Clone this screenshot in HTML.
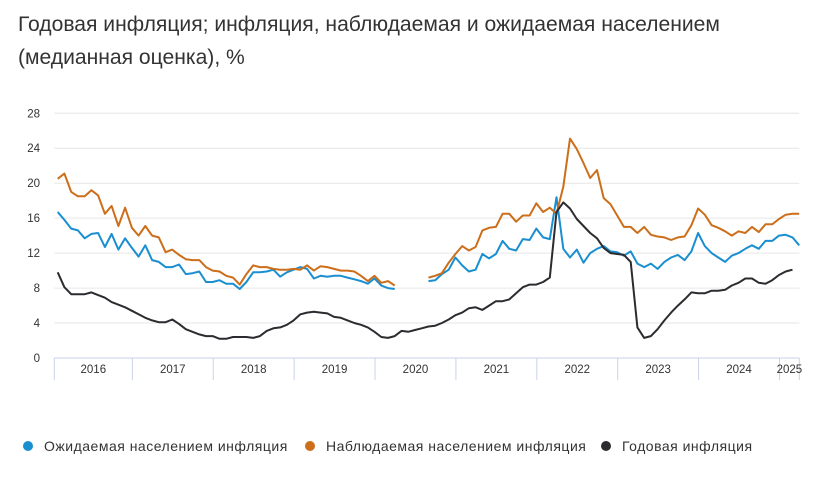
<!DOCTYPE html>
<html><head><meta charset="utf-8"><style>
body{margin:0;background:#fff;font-family:"Liberation Sans","DejaVu Sans",sans-serif;}
#wrap{position:relative;width:828px;height:477px;overflow:hidden;}
#title{position:absolute;left:18px;top:8px;font-size:21.1px;line-height:33px;color:#333;margin:0;font-weight:normal;}
svg{position:absolute;left:0;top:0;}
</style></head><body>
<div id="wrap">
<h1 id="title">Годовая инфляция; инфляция, наблюдаемая и ожидаемая населением<br>(медианная оценка), %</h1>
<svg id="chart" width="828" height="477"></svg>
</div>
<script>
const years = ["2016","2017","2018","2019","2020","2021","2022","2023","2024","2025"];
const yTicks = [0,4,8,12,16,20,24,28];
const legendLabels = ["Ожидаемая населением инфляция","Наблюдаемая населением инфляция","Годовая инфляция"];
const N = null;
const expected = [16.7,15.8,14.8,14.6,13.7,14.2,14.3,12.7,14.2,12.4,13.7,12.6,
11.6,12.9,11.2,11.0,10.4,10.4,10.7,9.6,9.7,9.9,8.7,8.7,
8.9,8.5,8.5,7.9,8.7,9.8,9.8,9.9,10.1,9.3,9.8,10.1,
10.4,10.2,9.1,9.4,9.3,9.4,9.4,9.2,9.0,8.8,8.5,9.1,
8.3,8.0,7.9,N,N,N,N,8.8,8.9,9.6,10.1,11.5,
10.6,9.9,10.1,11.9,11.4,11.9,13.4,12.5,12.3,13.6,13.5,14.8,
13.8,13.6,18.4,12.5,11.5,12.4,10.9,12.0,12.5,12.8,12.2,12.1,
11.7,12.2,10.8,10.4,10.8,10.2,11.0,11.5,11.8,11.2,12.2,14.3,
12.8,12.0,11.5,11.0,11.7,12.0,12.5,12.9,12.5,13.4,13.4,14.0,
14.1,13.8,12.9];
const observed = [20.5,21.1,19.0,18.5,18.5,19.2,18.6,16.5,17.4,15.1,17.2,14.9,
14.0,15.1,14.0,13.8,12.1,12.4,11.8,11.3,11.2,11.2,10.4,10.0,
9.9,9.4,9.2,8.4,9.6,10.6,10.4,10.4,10.2,10.1,10.1,10.2,
10.1,10.6,10.0,10.5,10.4,10.2,10.0,10.0,9.9,9.4,8.8,9.4,
8.6,8.8,8.3,N,N,N,N,9.2,9.4,9.7,10.9,11.9,
12.8,12.3,12.7,14.6,14.9,15.0,16.5,16.5,15.6,16.3,16.3,17.7,
16.7,17.2,16.5,19.6,25.1,23.9,22.3,20.6,21.5,18.3,17.6,16.3,
15.0,15.0,14.3,15.0,14.1,13.9,13.8,13.5,13.8,13.9,15.2,17.1,
16.4,15.2,14.9,14.5,14.0,14.5,14.3,15.0,14.4,15.3,15.3,15.9,
16.4,16.5,16.5];
const annual = [9.8,8.1,7.3,7.3,7.3,7.5,7.2,6.9,6.4,6.1,5.8,5.4,
5.0,4.6,4.3,4.1,4.1,4.4,3.9,3.3,3.0,2.7,2.5,2.5,
2.2,2.2,2.4,2.4,2.4,2.3,2.5,3.1,3.4,3.5,3.8,4.3,
5.0,5.2,5.3,5.2,5.1,4.7,4.6,4.3,4.0,3.8,3.5,3.0,
2.4,2.3,2.5,3.1,3.0,3.2,3.4,3.6,3.7,4.0,4.4,4.9,
5.2,5.7,5.8,5.5,6.0,6.5,6.5,6.7,7.4,8.1,8.4,8.4,
8.7,9.2,16.7,17.8,17.1,15.9,15.1,14.3,13.7,12.6,12.0,11.9,
11.8,11.0,3.5,2.3,2.5,3.3,4.3,5.2,6.0,6.7,7.5,7.4,
7.4,7.7,7.7,7.8,8.3,8.6,9.1,9.1,8.6,8.5,8.9,9.5,
9.9,10.1];
const colors = ["#1a8fd0","#cc6e1a","#2b2b30"];
const svg = document.getElementById('chart');
const NS = "http://www.w3.org/2000/svg";
const X0 = 57.7, DX = 6.741, AX0 = 54.3, AX1 = 799.3;
const Y0 = 358, KY = 8.74;
function x(i){return X0 + DX*i;}
function y(v){return Y0 - KY*v;}
function mk(tag, attrs){const e=document.createElementNS(NS,tag);for(const k in attrs)e.setAttribute(k,attrs[k]);svg.appendChild(e);return e;}
yTicks.forEach(t=>{
  if(t>0){const g=mk('line',{x1:AX0,x2:AX1,y1:y(t),y2:y(t),stroke:'#e6e6e6','stroke-width':1});
  
  }
  const l=mk('text',{x:40,y:y(t)+4,'text-anchor':'end','font-size':11.5,fill:'#333'});
  l.textContent=t;
  
  
});
const ax=mk('line',{x1:AX0,x2:AX1,y1:Y0,y2:Y0,stroke:'#c8d2ea','stroke-width':1});


const tickX=[AX0];
for(let k=1;k<years.length;k++) tickX.push(x(12*k-1)+0.5);
tickX.push(AX1);
tickX.forEach(tx=>{
  const t=mk('line',{x1:tx,x2:tx,y1:Y0,y2:380,stroke:'#c8d2ea','stroke-width':1});
  
  
});
years.forEach((yr,k)=>{
  const t=mk('text',{x:(tickX[k]+tickX[k+1])/2,y:373,'text-anchor':'middle','font-size':11.5,fill:'#333'});
  t.textContent=yr;
  
  
});
const names=['expected-inflation-line','observed-inflation-line','annual-inflation-line'];
[expected,observed,annual].forEach((arr,s)=>{
  let d='',pen=false;
  arr.forEach((v,i)=>{
    if(v===null){pen=false;return;}
    d+=(pen?'L':'M')+x(i).toFixed(1)+' '+y(v).toFixed(1)+' ';pen=true;
  });
  const p=mk('path',{d:d,fill:'none',stroke:colors[s],'stroke-width':2,'stroke-linejoin':'round'});
  
  
});
const legX=[28,310,606];
legendLabels.forEach((lab,s)=>{
  const c=mk('circle',{cx:legX[s],cy:446,r:5,fill:colors[s]});
  
  
  const t=mk('text',{x:legX[s]+16,y:451,'font-size':14,'letter-spacing':0.5,fill:'#333'});
  t.textContent=lab;
  
  
});
</script>
</body></html>
